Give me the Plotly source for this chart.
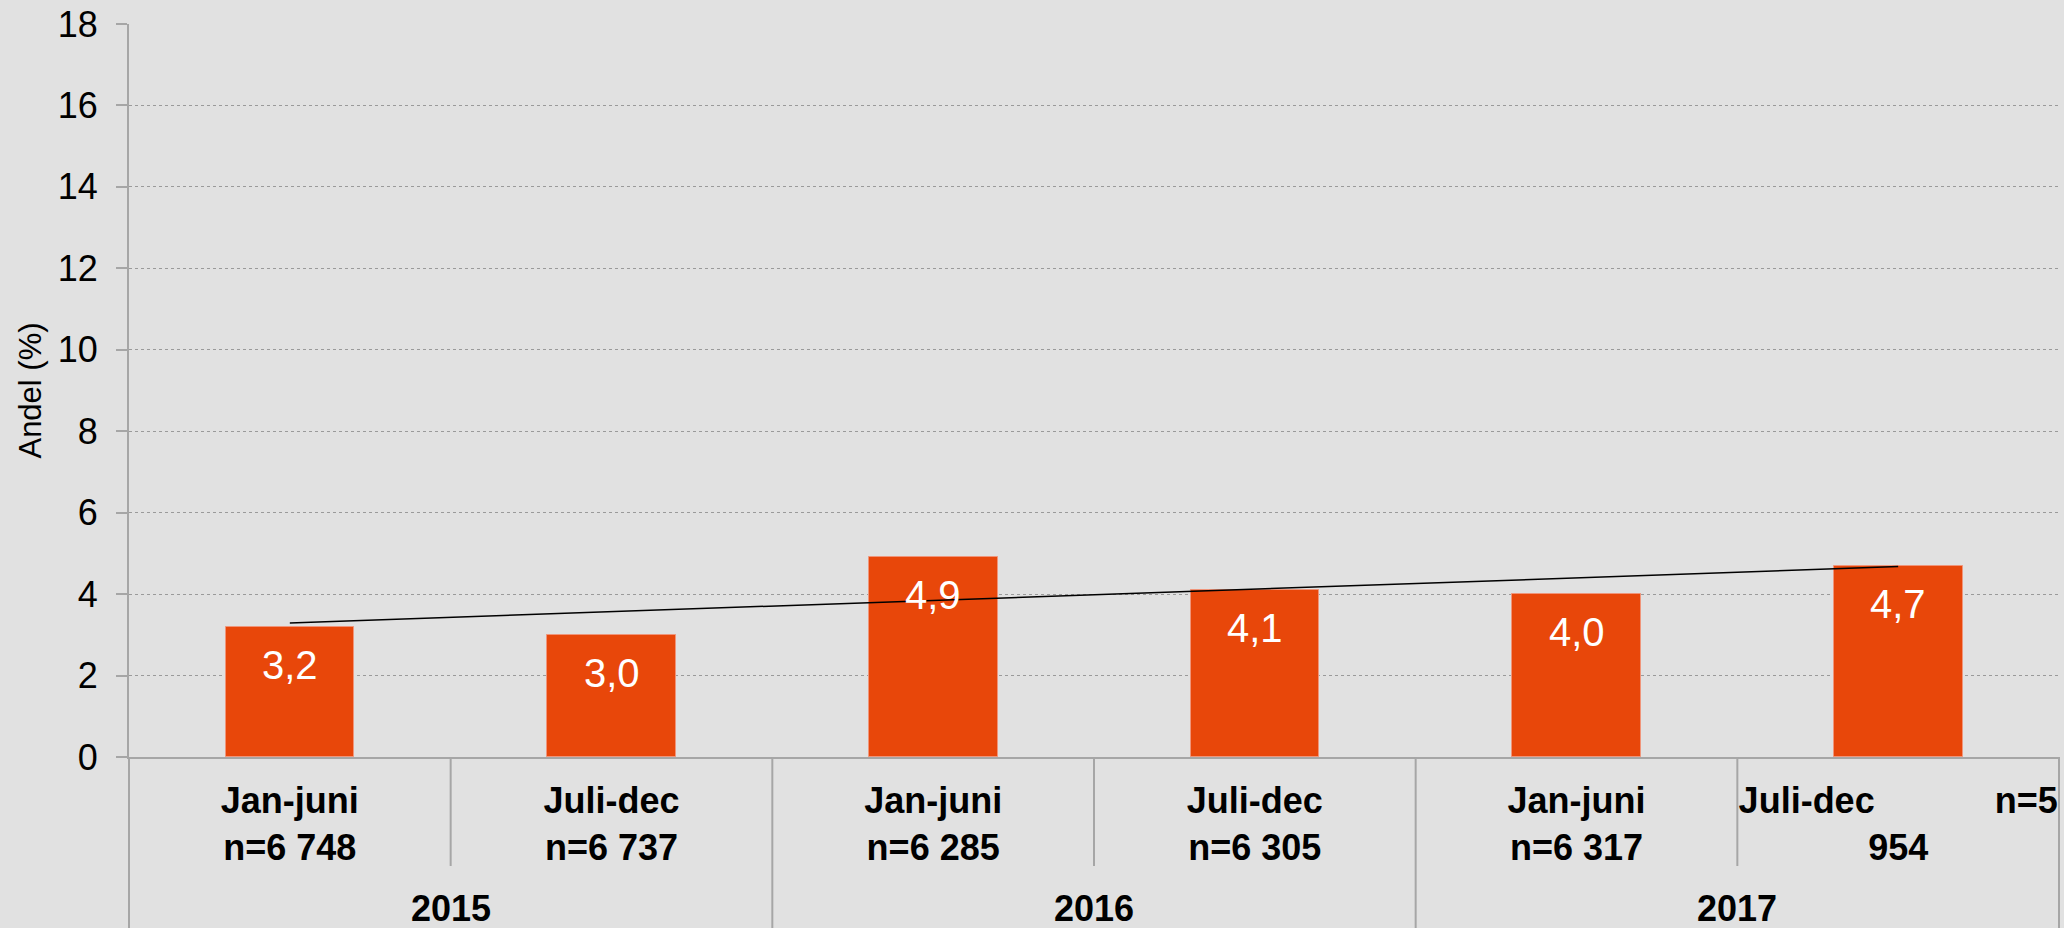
import numpy as np
import plotly.graph_objects as go

# ---- data ----
years = ["2015", "2015", "2016", "2016", "2017", "2017"]
periods = ["Jan-juni", "Juli-dec", "Jan-juni", "Juli-dec", "Jan-juni", "Juli-dec"]
n_values = ["6 748", "6 737", "6 285", "6 305", "6 317", "5 954"]
andel = [3.2, 3.0, 4.9, 4.1, 4.0, 4.7]
y_ticks = [0, 2, 4, 6, 8, 10, 12, 14, 16, 18]

FONT = "Liberation Sans, Arial, sans-serif"
BAR_COLOR = "#E8470A"
BG = "#E1E1E1"
AX = "#A6A6A6"

n_cat = len(andel)
idx = list(range(n_cat))

# tick labels (last one reproduces the original's odd wrap)
tick_text = []
for i, (p, n) in enumerate(zip(periods, n_values)):
    if i == n_cat - 1:
        first, rest = n.split(" ", 1)
        tick_text.append(f"<b>{p}" + "\u00a0" * 12 + f"n={first}<br>{rest}</b>")
    else:
        tick_text.append(f"<b>{p}<br>n={n}</b>")

fig = go.Figure()

fig.add_trace(go.Bar(
    x=idx, y=andel, width=0.4,
    marker=dict(color=BAR_COLOR, line=dict(color="#F0957A", width=1)),
    hoverinfo="skip",
))

# linear trend line
coef = np.polyfit(np.array(idx, dtype=float), np.array(andel), 1)
trend = np.polyval(coef, np.array(idx, dtype=float))
fig.add_trace(go.Scatter(
    x=[idx[0], idx[-1]], y=[trend[0], trend[-1]], mode="lines",
    line=dict(color="black", width=1.5), hoverinfo="skip",
))

# value labels inside bars
for i, v in zip(idx, andel):
    fig.add_annotation(
        x=i, y=v, xref="x", yref="y", text=f"{v:.1f}".replace(".", ","),
        showarrow=False, yanchor="middle", yshift=-38,
        font=dict(family=FONT, size=40, color="white"),
    )

# year labels
uniq_years = list(dict.fromkeys(years))
for yv in uniq_years:
    members = [i for i, y in enumerate(years) if y == yv]
    fig.add_annotation(
        x=sum(members) / len(members), y=-0.207, xref="x", yref="paper",
        text=f"<b>{yv}</b>", showarrow=False, yanchor="middle",
        font=dict(family=FONT, size=36, color="black"),
    )

# separators
for k in range(n_cat + 1):
    frac = k / n_cat
    is_year_bound = k == 0 or k == n_cat or years[k] != years[k - 1]
    fig.add_shape(
        type="line", xref="x domain", yref="paper",
        x0=frac, x1=frac, y0=0, y1=-0.2333 if is_year_bound else -0.1487,
        line=dict(color=AX, width=2), layer="above",
    )

fig.update_layout(
    width=2064, height=928,
    margin=dict(l=129, r=5, t=24, b=171, autoexpand=False),
    paper_bgcolor=BG, plot_bgcolor=BG,
    showlegend=False, bargap=0,
    font=dict(family=FONT, color="black"),
)

fig.update_xaxes(
    range=[-0.5, n_cat - 0.5], tickmode="array", tickvals=idx, ticktext=tick_text,
    tickfont=dict(family=FONT, size=36, color="black"),
    showgrid=False, zeroline=False, showline=True, linecolor=AX, linewidth=2,
    ticks="", fixedrange=True, automargin=False, ticklabelstandoff=11,
)
fig.update_yaxes(
    range=[0, 18], tickmode="array", tickvals=y_ticks,
    tickfont=dict(family=FONT, size=36, color="black"),
    showgrid=True, gridcolor="#9A9A9A", griddash="dot", gridwidth=1,
    zeroline=False, showline=True, linecolor=AX, linewidth=2,
    ticks="outside", ticklen=11, tickcolor=AX, tickwidth=2,
    automargin=False, ticklabelstandoff=11, fixedrange=True,
    title=dict(text="Andel (%)", font=dict(family=FONT, size=31, color="black"), standoff=7),
)

fig.write_html(
    "out.html",
    config={"displayModeBar": False},
    post_script="document.body.style.margin='0';document.body.style.overflow='hidden';",
)
